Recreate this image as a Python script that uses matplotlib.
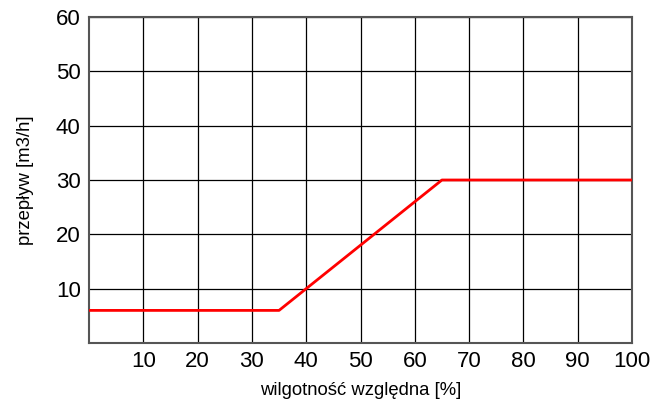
import matplotlib.pyplot as plt

plt.rcParams['font.family'] = ['Liberation Sans', 'DejaVu Sans']

humidity = [0, 35, 65, 100]
flow = [6, 6, 30, 30]
x_ticks = [10, 20, 30, 40, 50, 60, 70, 80, 90, 100]
y_ticks = [10, 20, 30, 40, 50, 60]

fig = plt.figure(figsize=(6.61, 4.08), dpi=100)
ax = fig.add_axes([89/661, 65/408, (632-89)/661, (343-17)/408])

ax.plot(humidity, flow, color='#ff0000', linewidth=2, zorder=3)

ax.set_xlim(0, 100)
ax.set_ylim(0, 60)
ax.set_xticks(x_ticks)
ax.set_yticks(y_ticks)
ax.tick_params(length=0, labelsize=16, pad=6)
ax.grid(True, color='black', linewidth=0.9)
for s in ax.spines.values():
    s.set_color('#555555')
    s.set_linewidth(1.5)

ax.set_xlabel('wilgotność względna [%]', fontsize=13.3, labelpad=7)
ax.set_ylabel('przepływ [m3/h]', fontsize=13.3, labelpad=16)

plt.savefig('out.png', dpi=100)
